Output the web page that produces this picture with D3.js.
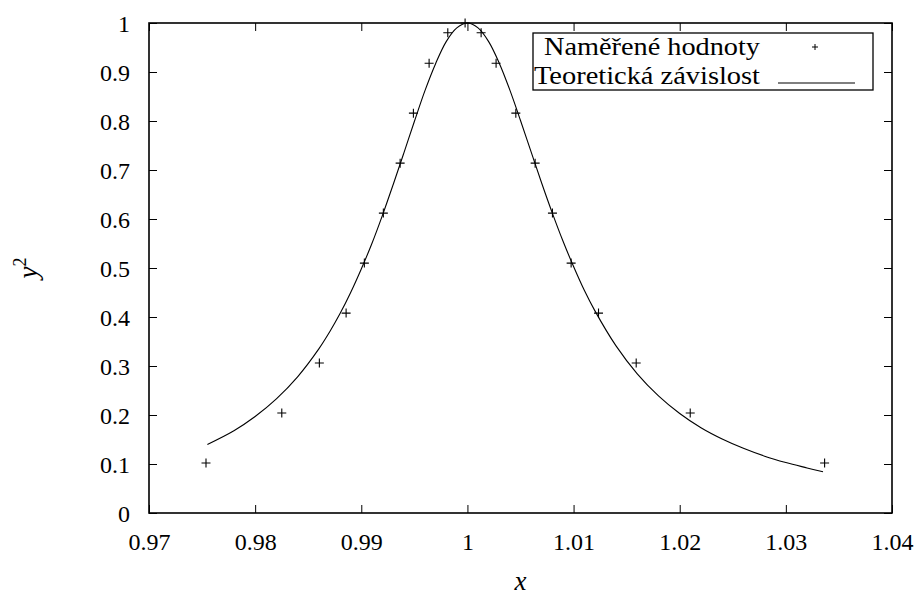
<!DOCTYPE html>
<html>
<head>
<meta charset="utf-8">
<script src="https://cdn.jsdelivr.net/npm/d3@7"></script>
<style>
  body { margin: 0; background: #fff; }
  #chart text { font-family: "Liberation Serif", "DejaVu Serif", "Noto Serif", serif !important; fill: #000; }
</style>
</head>
<body>
<svg id="chart" width="924" height="596"></svg>
<script>
const measuredX = [0.97537, 0.98251, 0.98605, 0.98857, 0.99029, 0.99208, 0.99366, 0.99491, 0.99639, 0.99815, 0.99978,
  1.00129, 1.00270, 1.00456, 1.00638, 1.00801, 1.00977, 1.01235, 1.01590, 1.02099, 1.03365]
const measuredY = [0.102, 0.204, 0.306, 0.408, 0.510, 0.612, 0.714, 0.816, 0.918, 0.980, 1.000,
  0.980, 0.918, 0.816, 0.714, 0.612, 0.510, 0.408, 0.306, 0.204, 0.102]

// theoretical curve
const theoryX = [0.9755, 0.978, 0.980, 0.982, 0.984, 0.986, 0.987, 0.988, 0.989, 0.990, 0.991, 0.992, 0.993,
  0.994, 0.995, 0.996, 0.997, 0.998, 0.999, 1.000, 1.001, 1.002, 1.003, 1.004, 1.005, 1.006, 1.007, 1.008,
  1.009, 1.010, 1.011, 1.012, 1.014, 1.016, 1.018, 1.020, 1.022, 1.024, 1.026, 1.028, 1.030, 1.032, 1.0335]
const theoryY = [0.140, 0.168, 0.197, 0.233, 0.278, 0.335, 0.369, 0.407, 0.450, 0.498, 0.550, 0.608, 0.670,
  0.734, 0.799, 0.862, 0.917, 0.962, 0.990, 1.000, 0.990, 0.962, 0.918, 0.863, 0.801, 0.737, 0.673, 0.612,
  0.555, 0.503, 0.455, 0.413, 0.341, 0.284, 0.239, 0.203, 0.174, 0.151, 0.132, 0.116, 0.103, 0.092, 0.084]

const xTicks = [0.97, 0.98, 0.99, 1.00, 1.01, 1.02, 1.03, 1.04]
const xTickLabels = ['0.97', '0.98', '0.99', '1', '1.01', '1.02', '1.03', '1.04']
const yTicks = [0, 0.1, 0.2, 0.3, 0.4, 0.5, 0.6, 0.7, 0.8, 0.9, 1]
const yTickLabels = ['0', '0.1', '0.2', '0.3', '0.4', '0.5', '0.6', '0.7', '0.8', '0.9', '1']
const legendLabels = ['Naměřené hodnoty', 'Teoretická závislost']

const svg = d3.select('#chart')
const plotLeft = 149
const plotRight = 892
const plotTop = 23
const plotBottom = 513

const x = d3.scaleLinear().domain([0.97, 1.04]).range([plotLeft, plotRight])
const y = d3.scaleLinear().domain([0, 1]).range([plotBottom, plotTop])

// axes with inward ticks on all four sides
const tickLen = 8
svg.append('g')
  .attr('transform', `translate(0,${plotBottom})`)
  .call(d3.axisBottom(x).tickValues(xTicks).tickSizeInner(-tickLen).tickSizeOuter(0)
    .tickFormat((d, i) => xTickLabels[i]))
  .call(g => g.select('.domain').remove())
  .call(g => g.selectAll('text').attr('y', 37).attr('dy', 0).attr('font-size', 24))

svg.append('g')
  .attr('transform', `translate(0,${plotTop})`)
  .call(d3.axisTop(x).tickValues(xTicks).tickSizeInner(-tickLen).tickSizeOuter(0).tickFormat(''))
  .call(g => g.select('.domain').remove())

svg.append('g')
  .attr('transform', `translate(${plotLeft},0)`)
  .call(d3.axisLeft(y).tickValues(yTicks).tickSizeInner(-tickLen).tickSizeOuter(0)
    .tickFormat((d, i) => yTickLabels[i]))
  .call(g => g.select('.domain').remove())
  .call(g => g.selectAll('text').attr('x', -19).attr('dy', 8.5).attr('font-size', 24))

svg.append('g')
  .attr('transform', `translate(${plotRight},0)`)
  .call(d3.axisRight(y).tickValues(yTicks).tickSizeInner(-tickLen).tickSizeOuter(0).tickFormat(''))
  .call(g => g.select('.domain').remove())

svg.selectAll('g').attr('font-family', null)
svg.selectAll('.tick line').attr('stroke', '#000').attr('stroke-width', 1)
svg.selectAll('.tick text').attr('fill', '#000')

// border
svg.append('rect')
  .attr('x', plotLeft)
  .attr('y', plotTop)
  .attr('width', plotRight - plotLeft)
  .attr('height', plotBottom - plotTop)
  .attr('fill', 'none')
  .attr('stroke', '#000')
  .attr('stroke-width', 1.6)

// theoretical curve
const theory = theoryX.map((d, i) => [d, theoryY[i]])
svg.append('path')
  .datum(theory)
  .attr('fill', 'none')
  .attr('stroke', '#000')
  .attr('stroke-width', 1.1)
  .attr('d', d3.line().x(d => x(d[0])).y(d => y(d[1])).curve(d3.curveCatmullRom))

// measured points
const plus = 'M-4.5,0H4.5M0,-4.5V4.5'
svg.append('g')
  .selectAll('path')
  .data(measuredX.map((d, i) => [d, measuredY[i]]))
  .join('path')
  .attr('transform', d => `translate(${x(d[0])},${y(d[1])})`)
  .attr('d', plus)
  .attr('stroke', '#000')
  .attr('stroke-width', 1.1)

// legend
const legend = svg.append('g')
legend.append('rect')
  .attr('x', 533)
  .attr('y', 33)
  .attr('width', 340)
  .attr('height', 57)
  .attr('fill', '#fff')
  .attr('stroke', '#000')
  .attr('stroke-width', 1.3)

legend.selectAll('text')
  .data(legendLabels)
  .join('text')
  .attr('x', 760)
  .attr('y', (d, i) => i === 0 ? 55 : 84)
  .attr('text-anchor', 'end')
  .attr('font-size', 25)
  .attr('textLength', (d, i) => i === 0 ? 216 : 226)
  .attr('lengthAdjust', 'spacingAndGlyphs')
  .text(d => d)

legend.append('path')
  .attr('transform', 'translate(815,47)')
  .attr('d', 'M-3,0H3M0,-3V3')
  .attr('stroke', '#000')
  .attr('stroke-width', 1)

legend.append('line')
  .attr('x1', 778)
  .attr('x2', 855)
  .attr('y1', 83)
  .attr('y2', 83)
  .attr('stroke', '#000')
  .attr('stroke-width', 1.1)

// axis titles
svg.append('text')
  .attr('x', (plotLeft + plotRight) / 2)
  .attr('y', 590)
  .attr('text-anchor', 'middle')
  .attr('font-size', 27)
  .attr('font-style', 'italic')
  .text('x')

const yLabel = svg.append('text')
  .attr('transform', 'translate(37,268) rotate(-90)')
  .attr('text-anchor', 'middle')
  .attr('font-size', 27)
yLabel.append('tspan').attr('font-style', 'italic').text('y')
yLabel.append('tspan').attr('font-size', 18).attr('dy', -11).text('2')
</script>
</body>
</html>
